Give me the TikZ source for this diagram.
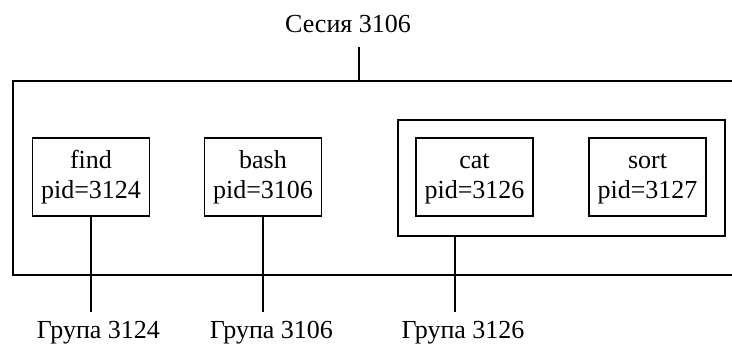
\documentclass[tikz,border=0pt]{standalone}
\usepackage{fontspec}
\setmainfont{Liberation Serif}
\begin{document}
\begin{tikzpicture}[x=1pt,y=-1pt,line width=1.6pt,
  proc/.style={draw,minimum width=117pt,minimum height=78pt,inner sep=0pt,align=center,
    font=\fontsize{26}{30}\selectfont},
  lbl/.style={inner sep=0pt,font=\fontsize{26}{30}\selectfont,anchor=base}]
\useasboundingbox (0,0) rectangle (732,345);
% session box (right side runs past the edge)
\draw (732,81) -- (13,81) -- (13,275) -- (732,275);
\node[lbl] (title) at (348,33) {Сесия 3106};
\coordinate (ttop) at (359,47);
\coordinate (stop) at (359,81);
\draw (ttop) -- (stop);
% process boxes
\node[proc] (find) at (91,177) {\strut find\\pid=3124\strut};
\node[proc] (bash) at (263,177) {\strut bash\\pid=3106\strut};
\node[draw,minimum width=327pt,minimum height=116pt,inner sep=0pt] (grp) at (561.5,178) {};
\node[proc] (cat) at (474.5,177) {\strut cat\\pid=3126\strut};
\node[proc] (sort) at (647.5,177) {\strut sort\\pid=3127\strut};
% group labels
\node[lbl] (g1) at (98.5,338.5) {Група 3124};
\node[lbl] (g2) at (271.5,338.5) {Група 3106};
\node[lbl] (g3) at (463,338.5) {Група 3126};
\coordinate (e1) at (91,312);
\coordinate (e2) at (263,312);
\coordinate (e3) at (455,312);
\coordinate (gb) at (455,236);
\draw (find.south) -- (e1);
\draw (bash.south) -- (e2);
\draw (gb) -- (e3);
\end{tikzpicture}
\end{document}
